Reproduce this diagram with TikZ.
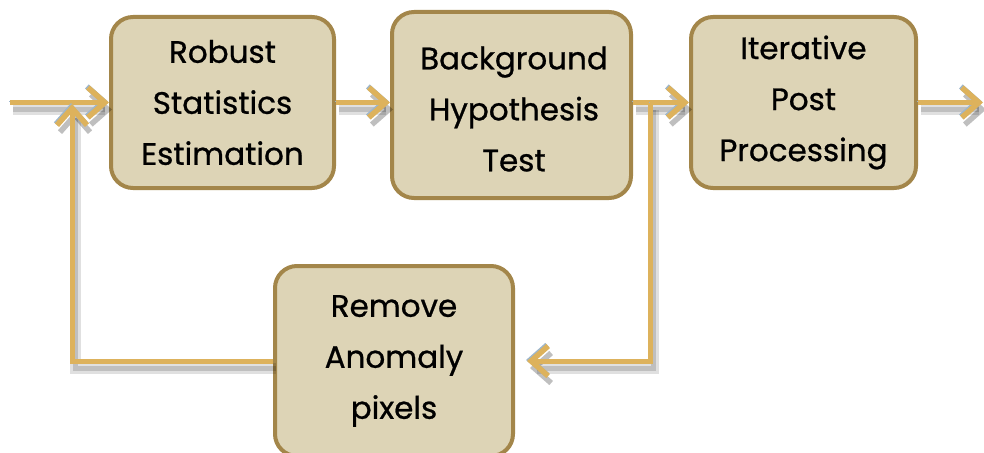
\documentclass[tikz,border=0pt]{standalone}
\usepackage{fontspec}
\setmainfont{Poppins}
\newfontfamily\boxfont[FakeBold=0.8]{Poppins}
\usetikzlibrary{arrows.meta}
\definecolor{boxfill}{HTML}{DDD4B6}
\definecolor{boxline}{HTML}{A3864A}
\definecolor{arrgold}{HTML}{DDB25C}
\definecolor{arrblue}{HTML}{9DB6CC}
\tikzset{
  blockbox/.style={draw=boxline, fill=boxfill, line width=4pt, rounded corners=22pt,
    align=center, font=\boxfont\fontsize{31}{51}\selectfont, inner sep=0pt},
  flow/.style={draw=arrgold, line width=5pt,
    -{Straight Barb[length=17pt,width=30pt,line width=5.5pt]},
    preaction={draw=black, opacity=0.12, line width=11pt, transform canvas={shift={(3pt,-7pt)}}},
    preaction={draw=black, opacity=0.15, line width=5pt, transform canvas={shift={(3pt,-7pt)}}},
    preaction={draw=arrblue, transform canvas={shift={(-1pt,1pt)}}}}
}
\begin{document}
\begin{tikzpicture}[x=1pt,y=-1pt]
\useasboundingbox (0,0) rectangle (984,452);
\node[blockbox, minimum width=223pt, minimum height=171pt] (b1) at (222.5,102.5) {Robust\\Statistics\\Estimation};
\node[blockbox, minimum width=239pt, minimum height=186pt] (b2) at (511.5,105) {};
\node[align=center, font=\boxfont\fontsize{31}{51}\selectfont, inner sep=0pt] (t2) at (514,109) {Background\\Hypothesis\\Test};
\node[blockbox, minimum width=225pt, minimum height=171pt] (b3) at (803.5,102.5) {Iterative\\Post\\Processing};
\node[blockbox, minimum width=238pt, minimum height=190pt] (b4) at (394,361) {Remove\\Anomaly\\pixels};
\coordinate (in) at (10,102.5);
\coordinate (fbtop) at (72,104);
\coordinate (br) at (650,102.5);
\coordinate (brin) at (527,361);
\coordinate (out) at (983,102.5);
\draw[flow] (in) -- (b1.west);
\draw[flow] (b1.east) -- (b2.west |- b1.east);
\draw[flow] (b2.east |- b1.east) -- (b3.west);
\draw[flow] (b3.east) -- (out);
\draw[flow] (br) |- (brin);
\draw[flow] (b4.west |- brin) -| (fbtop);
\end{tikzpicture}
\end{document}
